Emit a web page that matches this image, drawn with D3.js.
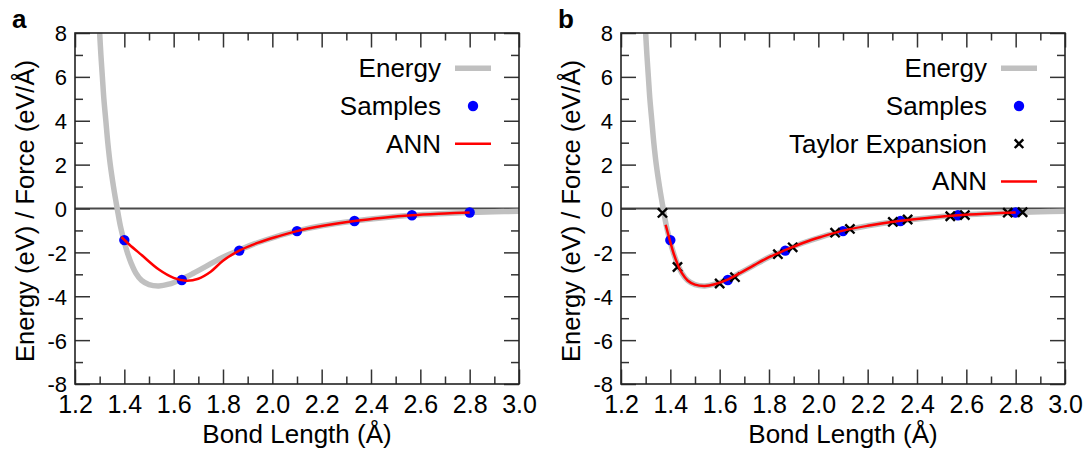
<!DOCTYPE html>
<html>
<head>
<meta charset="utf-8">
<script src="https://cdn.jsdelivr.net/npm/d3@7"></script>
<style>
  html, body { margin: 0; padding: 0; background: #fff; }
  svg { display: block; }
  text { font-family: "Liberation Sans", Arial, Helvetica, sans-serif; fill: #000; }
</style>
</head>
<body>
<svg id="chart" width="1086" height="450"></svg>
<script>
// ---------------- data ----------------
const xTickValues = [1.2, 1.4, 1.6, 1.8, 2.0, 2.2, 2.4, 2.6, 2.8, 3.0];
const xTickLabels = ["1.2", "1.4", "1.6", "1.8", "2.0", "2.2", "2.4", "2.6", "2.8", "3.0"];
const xMinorTicks = [1.3, 1.5, 1.7, 1.9, 2.1, 2.3, 2.5, 2.7, 2.9];
const yTickValues = [-8, -6, -4, -2, 0, 2, 4, 6, 8];
const yTickLabels = ["-8", "-6", "-4", "-2", "0", "2", "4", "6", "8"];
const yMinorTicks = [-7, -5, -3, -1, 1, 3, 5, 7];

const xTitle = "Bond Length (Å)";
const yTitle = "Energy (eV) / Force (eV/Å)";
const panelLabels = ["a", "b"];

// reference energy curve (grey)
const energyX = [1.300, 1.305, 1.311, 1.317, 1.325, 1.333, 1.343, 1.356, 1.371, 1.384, 1.398, 1.412, 1.428, 1.447, 1.470, 1.500, 1.540, 1.580, 1.632, 1.680, 1.740, 1.800, 1.865, 1.940, 2.010, 2.100, 2.200, 2.333, 2.450, 2.566, 2.700, 2.800, 2.900, 3.000];
const energyY = [8.0, 7.0, 6.0, 5.0, 4.0, 3.0, 2.0, 1.0, 0.0, -0.8, -1.45, -2.0, -2.5, -2.95, -3.28, -3.47, -3.53, -3.45, -3.22, -2.95, -2.58, -2.22, -1.9, -1.56, -1.3, -1.02, -0.79, -0.57, -0.42, -0.31, -0.23, -0.18, -0.15, -0.13];

// training samples (blue dots)
const sampleX = [1.400, 1.633, 1.866, 2.100, 2.333, 2.566, 2.800];
const sampleY = [-1.44, -3.26, -1.92, -1.03, -0.57, -0.31, -0.18];

// Taylor expansion points (panel b, black crosses)
const taylorX = [1.368, 1.429, 1.600, 1.662, 1.836, 1.896, 2.068, 2.128, 2.302, 2.362, 2.535, 2.594, 2.768, 2.828];
const taylorY = [-0.2, -2.67, -3.42, -3.13, -2.08, -1.77, -1.1, -0.93, -0.61, -0.5, -0.35, -0.3, -0.19, -0.17];

// ANN fit, panel a (energies only)
const annAX = [1.388, 1.420, 1.470, 1.540, 1.600, 1.650, 1.700, 1.750, 1.800, 1.866, 1.940, 2.020, 2.100, 2.200, 2.333, 2.450, 2.566, 2.700, 2.800];
const annAY = [-1.30, -1.64, -2.12, -2.78, -3.16, -3.29, -3.20, -2.88, -2.38, -1.92, -1.57, -1.28, -1.03, -0.80, -0.57, -0.42, -0.31, -0.23, -0.18];

// ANN fit, panel b (energies + Taylor expansion)
const annBX = [1.381, 1.398, 1.412, 1.428, 1.447, 1.470, 1.500, 1.540, 1.580, 1.632, 1.680, 1.740, 1.800, 1.865, 1.940, 2.010, 2.100, 2.200, 2.333, 2.450, 2.566, 2.700, 2.800];
const annBY = [-0.74, -1.45, -2.0, -2.5, -2.95, -3.28, -3.47, -3.53, -3.45, -3.24, -2.96, -2.58, -2.22, -1.9, -1.56, -1.3, -1.01, -0.79, -0.56, -0.42, -0.31, -0.23, -0.18];

const legendA = ["Energy", "Samples", "ANN"];
const legendB = ["Energy", "Samples", "Taylor Expansion", "ANN"];

// ---------------- drawing ----------------
const svg = d3.select("#chart");
const FRAME = "#222";
const GREY = "#c0c0c0";
const RED = "#ff0000";
const BLUE = "#0000ff";

const zip = (xs, ys) => xs.map((x, i) => [x, ys[i]]);

function drawPanel(px, label, legendNames, annX, annY, showTaylor) {
  const plotW = 444, top = 33, bottom = 384;
  const x = d3.scaleLinear().domain([1.2, 3.0]).range([px, px + plotW]);
  const y = d3.scaleLinear().domain([-8, 8]).range([bottom, top]);
  const g = svg.append("g");

  // zero line
  g.append("line")
    .attr("x1", x(1.2)).attr("x2", x(3.0))
    .attr("y1", y(0)).attr("y2", y(0))
    .attr("stroke", "#4a4a4a").attr("stroke-width", 1.8);

  const styleAxis = sel => {
    sel.select(".domain").remove();
    sel.selectAll(".tick line").attr("stroke", "#333").attr("stroke-width", 1.5);
  };

  // bottom
  g.append("g").attr("transform", `translate(0,${bottom})`)
    .call(d3.axisBottom(x).tickValues(xTickValues).tickSizeInner(-14.5).tickSizeOuter(0)
      .tickFormat((d, i) => xTickLabels[i]))
    .call(styleAxis)
    .call(s => s.selectAll(".tick text").attr("y", 29).attr("dy", null)
      .attr("font-size", 25).attr("fill", "#000")
      .style("font-family", '"Liberation Sans", Arial, sans-serif'));
  g.append("g").attr("transform", `translate(0,${bottom})`)
    .call(d3.axisBottom(x).tickValues(xMinorTicks).tickSizeInner(-7.5).tickSizeOuter(0).tickFormat(""))
    .call(styleAxis);
  // top
  g.append("g").attr("transform", `translate(0,${top})`)
    .call(d3.axisTop(x).tickValues(xTickValues).tickSizeInner(-14.5).tickSizeOuter(0).tickFormat(""))
    .call(styleAxis);
  g.append("g").attr("transform", `translate(0,${top})`)
    .call(d3.axisTop(x).tickValues(xMinorTicks).tickSizeInner(-7.5).tickSizeOuter(0).tickFormat(""))
    .call(styleAxis);
  // left
  g.append("g").attr("transform", `translate(${px},0)`)
    .call(d3.axisLeft(y).tickValues(yTickValues).tickSizeInner(-15).tickSizeOuter(0).tickPadding(8)
      .tickFormat((d, i) => yTickLabels[i]))
    .call(styleAxis)
    .call(s => s.selectAll(".tick text").attr("x", -8).attr("dy", "0.36em")
      .attr("font-size", 22).attr("fill", "#000")
      .style("font-family", '"Liberation Sans", Arial, sans-serif'));
  g.append("g").attr("transform", `translate(${px},0)`)
    .call(d3.axisLeft(y).tickValues(yMinorTicks).tickSizeInner(-8).tickSizeOuter(0).tickFormat(""))
    .call(styleAxis);
  // right
  g.append("g").attr("transform", `translate(${px + plotW},0)`)
    .call(d3.axisRight(y).tickValues(yTickValues).tickSizeInner(-15).tickSizeOuter(0).tickFormat(""))
    .call(styleAxis);
  g.append("g").attr("transform", `translate(${px + plotW},0)`)
    .call(d3.axisRight(y).tickValues(yMinorTicks).tickSizeInner(-8).tickSizeOuter(0).tickFormat(""))
    .call(styleAxis);

  const line = d3.line().x(d => x(d[0])).y(d => y(d[1])).curve(d3.curveCatmullRom.alpha(0.5));

  // energy curve
  g.append("path").datum(zip(energyX, energyY))
    .attr("d", line).attr("fill", "none")
    .attr("stroke", GREY).attr("stroke-width", 5.5).attr("stroke-linecap", "butt");

  // samples
  g.append("g").selectAll("circle").data(zip(sampleX, sampleY)).join("circle")
    .attr("cx", d => x(d[0])).attr("cy", d => y(d[1])).attr("r", 5.2)
    .attr("fill", BLUE);

  // Taylor crosses
  const cross = (sel, cx, cy, s) => {
    sel.append("path")
      .attr("d", `M${cx - s},${cy - s}L${cx + s},${cy + s}M${cx - s},${cy + s}L${cx + s},${cy - s}`)
      .attr("stroke", "#000").attr("stroke-width", 2.4).attr("fill", "none");
  };
  if (showTaylor) {
    const tg = g.append("g");
    zip(taylorX, taylorY).forEach(d => cross(tg, x(d[0]), y(d[1]), 4.6));
  }

  // ANN
  g.append("path").datum(zip(annX, annY))
    .attr("d", line).attr("fill", "none")
    .attr("stroke", RED).attr("stroke-width", 2.5);

  // frame
  g.append("rect").attr("x", px).attr("y", top).attr("width", plotW).attr("height", bottom - top)
    .attr("fill", "none").attr("stroke", FRAME).attr("stroke-width", 1.6);

  // legend
  const lg = g.append("g");
  legendNames.forEach((name, i) => {
    const by = 77.3 + i * 37.7;
    lg.append("text").attr("x", px + 366).attr("y", by).attr("text-anchor", "end")
      .attr("font-size", 26).text(name);
    const cy = by - 9, cx = px + 398;
    if (name === "Energy") {
      lg.append("line").attr("x1", cx - 18).attr("x2", cx + 18).attr("y1", cy).attr("y2", cy)
        .attr("stroke", GREY).attr("stroke-width", 5.5);
    } else if (name === "Samples") {
      lg.append("circle").attr("cx", cx).attr("cy", cy).attr("r", 5.2).attr("fill", BLUE);
    } else if (name === "Taylor Expansion") {
      cross(lg, cx, cy, 4.3);
    } else if (name === "ANN") {
      lg.append("line").attr("x1", cx - 18).attr("x2", cx + 18).attr("y1", cy).attr("y2", cy)
        .attr("stroke", RED).attr("stroke-width", 2.5);
    }
  });

  // axis titles
  g.append("text").attr("x", px + plotW / 2).attr("y", 443).attr("text-anchor", "middle")
    .attr("font-size", 26).text(xTitle);
  g.append("text").attr("transform", `translate(${px - 41},211) rotate(-90)`)
    .attr("text-anchor", "middle").attr("font-size", 25.5).text(yTitle);

  // panel label
  g.append("text").attr("x", px - 63).attr("y", 28).attr("font-size", 26)
    .attr("font-weight", "bold").text(label);
}

drawPanel(75, panelLabels[0], legendA, annAX, annAY, false);
drawPanel(621, panelLabels[1], legendB, annBX, annBY, true);
</script>
</body>
</html>
